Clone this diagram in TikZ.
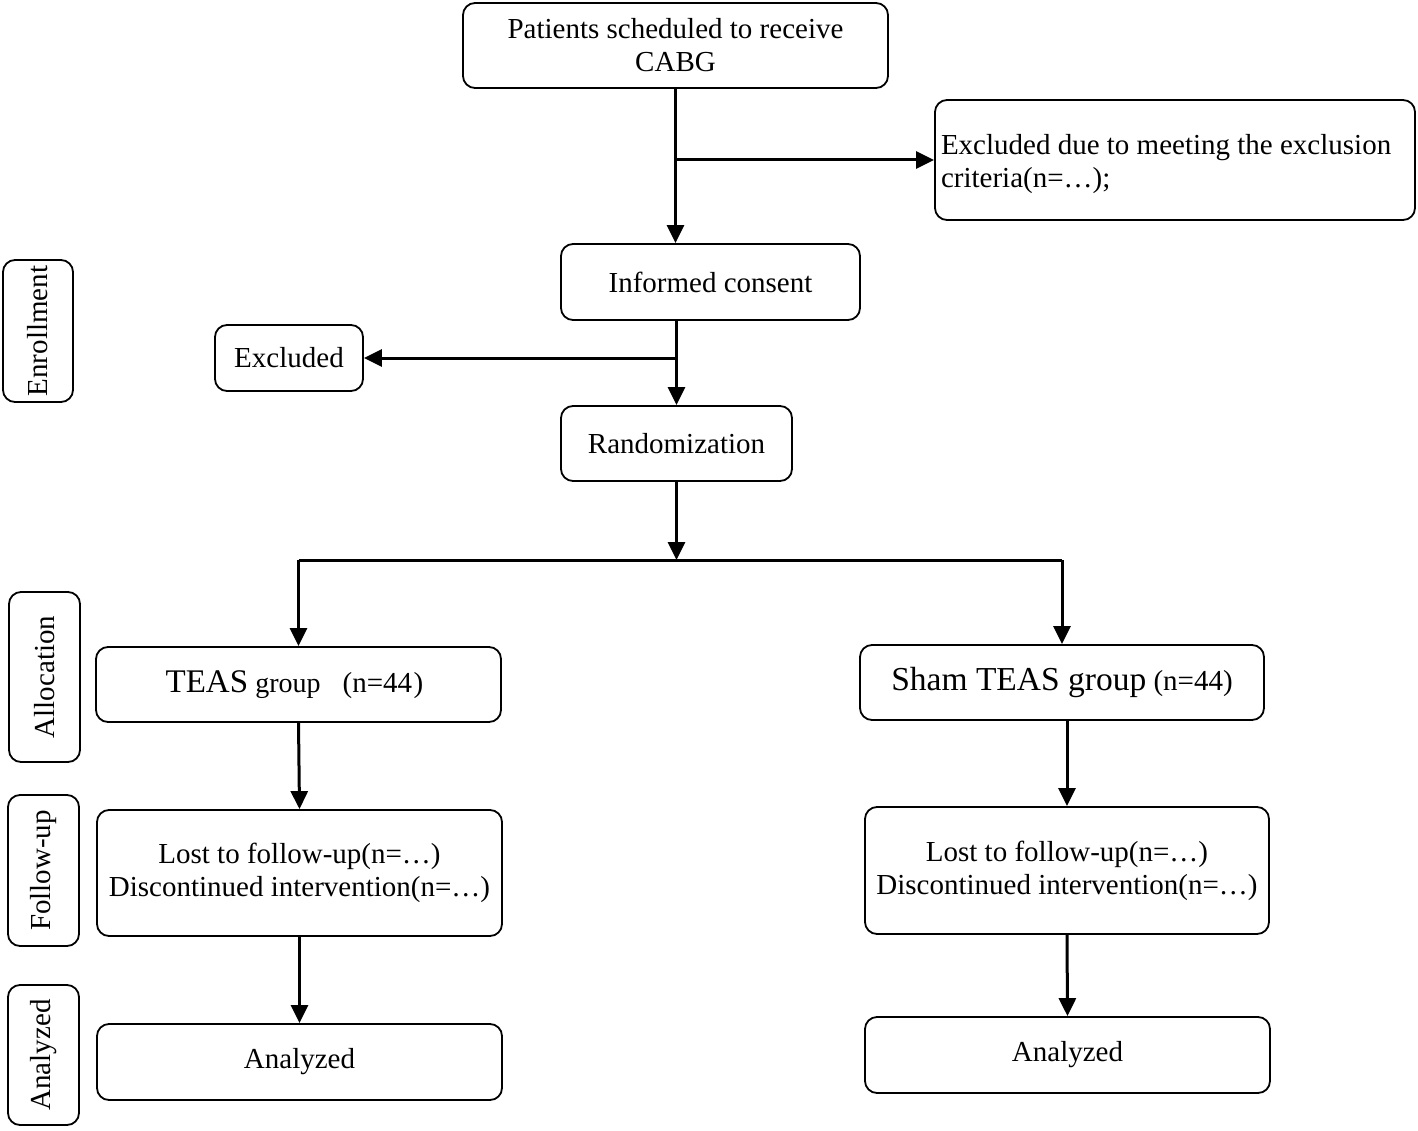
\documentclass[tikz,border=0pt]{standalone}
\usepackage{fontspec}
\setmainfont{Liberation Serif}
\usetikzlibrary{arrows.meta}
\begin{document}
\begin{tikzpicture}[x=1pt,y=-1pt,
  box/.style={draw, line width=1.8pt, rounded corners=12pt, inner sep=2pt, align=center,
              font=\fontsize{29}{33}\selectfont},
  side/.style={box, rotate=90},
  conn/.style={line width=3pt},
  arr/.style={conn, -{Triangle[length=18pt,width=17pt]}}]
\useasboundingbox (0,0) rectangle (1418,1131);
% main boxes
\node[box, minimum width=425pt, minimum height=85pt] (pat) at (675.5,45.5) {Patients scheduled to receive\\CABG};
\node[box, minimum width=480pt, minimum height=120pt, align=flush left, text width=468pt, text depth=31pt] (exc) at (1175,160) {Excluded due to meeting the exclusion\\criteria(n=\dots);};
\node[box, minimum width=299pt, minimum height=76pt] (inf) at (710.5,282) {Informed consent};
\node[box, minimum width=148pt, minimum height=66pt] (excl) at (289,358) {Excluded};
\node[box, minimum width=231pt, minimum height=75pt] (rand) at (676.5,443.5) {Randomization};
\node[box, minimum width=405pt, minimum height=75pt] (teas) at (298.5,684.5) {{\fontsize{33}{33}\selectfont TEAS} {\fontsize{28}{33}\selectfont group}\hspace{22pt}(n=44\hspace{1.5pt})\hspace{8pt}};
\node[box, minimum width=404pt, minimum height=75pt] (sham) at (1062,682.5) {{\fontsize{33.5}{33}\selectfont Sham TEAS group} (n=44)};
\node[box, minimum width=405pt, minimum height=126pt] (lostL) at (299.5,873) {Lost to follow-up(n=\dots)\\Discontinued intervention(n=\dots)};
\node[box, minimum width=404pt, minimum height=127pt] (lostR) at (1067,870.5) {Lost to follow-up(n=\dots)\\Discontinued intervention(n=\dots)};
\node[box, minimum width=405pt, minimum height=76pt] (anaL) at (299.5,1062) {Analyzed};
\node[box, minimum width=405pt, minimum height=76pt] (anaR) at (1067.5,1055) {Analyzed};
% side labels
\node[side, minimum width=142pt, minimum height=70pt] (sEnr) at (38,331) {Enrollment};
\node[side, minimum width=170pt, minimum height=71pt] (sAll) at (44.5,677) {Allocation};
\node[side, minimum width=151pt, minimum height=71pt] (sFol) at (43.5,870.5) {Follow-up};
\node[side, minimum width=140pt, minimum height=71pt] (sAna) at (43.5,1055) {Analyzed};
% connectors
\coordinate (split) at (676.5,560);
\draw[arr] (pat.south) -- (pat.south |- inf.north);
\draw[arr] (pat.south |- exc.west) -- (exc.west);
\draw[arr] (rand.north |- inf.south) -- (rand.north);
\draw[arr] (rand.north |- excl.east) -- (excl.east);
\draw[arr] (rand.south) -- (split);
\draw[conn] (teas.north |- split) -- (sham.north |- split);
\draw[arr] (teas.north |- split) -- (teas.north);
\draw[arr] (sham.north |- split) -- (sham.north);
\draw[arr] (teas.south) -- (lostL.north);
\draw[arr] (lostL.south) -- (anaL.north);
\draw[arr] (sham.south -| lostR.north) -- (lostR.north);
\draw[arr] (lostR.south) -- (anaR.north);
\end{tikzpicture}
\end{document}
